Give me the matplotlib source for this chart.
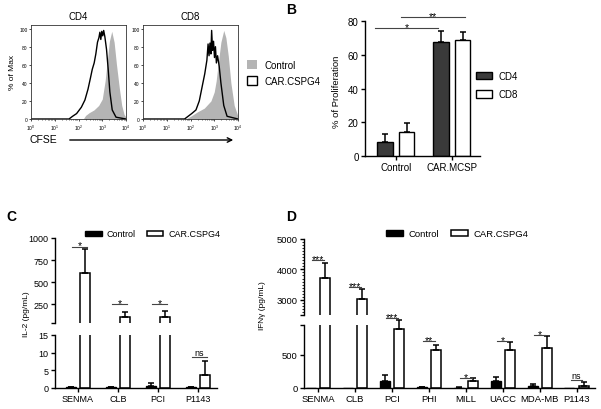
import numpy as np
import matplotlib
matplotlib.use("Agg")
from matplotlib import pyplot as plt
from matplotlib.patches import Patch, FancyArrowPatch
from matplotlib.ticker import LogLocator, NullFormatter, MultipleLocator

plt.rcParams['font.family'] = ['Liberation Sans', 'DejaVu Sans']
plt.rcParams['axes.linewidth'] = 1.0

# ---- panel A: CFSE histograms (log10 CFSE, % of max)
cd4_ctrl_log = [2.2, 2.3, 2.45, 2.65, 2.85, 3.0, 3.12, 3.22, 3.3, 3.4, 3.5, 3.6, 3.72, 3.82, 3.92, 4.0]
cd4_ctrl_pct = [0, 4, 7, 10, 15, 22, 42, 66, 86, 97, 85, 60, 34, 15, 5, 2]
cd4_car_log = [0.0, 1.6, 1.75, 1.92, 2.12, 2.27, 2.4, 2.5, 2.58, 2.66, 2.73, 2.8, 2.86, 2.9, 2.94,
               2.98, 3.02, 3.06, 3.11, 3.18, 3.25, 3.32, 3.42, 3.58, 4.0]
cd4_car_pct = [0, 0, 3, 6, 13, 21, 33, 45, 55, 62, 72, 85, 90, 96, 88, 97, 92, 98, 91, 77, 55, 30, 10, 2, 0]
cd8_ctrl_log = [1.8, 2.0, 2.3, 2.58, 2.86, 3.0, 3.08, 3.16, 3.28, 3.4, 3.49, 3.59, 3.7, 3.84, 4.0]
cd8_ctrl_pct = [0, 3, 8, 12, 20, 30, 42, 60, 85, 98, 90, 70, 40, 15, 3]
cd8_car_log = [0.0, 1.75, 1.9, 2.05, 2.23, 2.37, 2.5, 2.6, 2.69, 2.74, 2.78, 2.82, 2.86, 2.89,
               2.93, 2.97, 3.01, 3.05, 3.09, 3.14, 3.21, 3.28, 3.4, 3.54, 4.0]
cd8_car_pct = [0, 0, 3, 6, 10, 20, 37, 50, 65, 83, 70, 84, 72, 98, 76, 86, 68, 80, 62, 70, 58, 40, 15, 3, 0]

# ---- panel B: proliferation
prolif_groups = ['Control', 'CAR.MCSP']
cd4_prolif = [8.5, 67.4]
cd4_prolif_err = [4.3, 6.9]
cd8_prolif = [14.0, 68.9]
cd8_prolif_err = [5.4, 4.8]

# ---- panel C: IL-2
il2_lines = ['SENMA', 'CLB', 'PCI', 'P1143']
il2_ctrl = [0.3, 0.3, 0.5, 0.2]
il2_ctrl_err = [0.1, 0.1, 1.0, 0.1]
il2_car = [600, 105, 105, 3.7]
il2_car_err = [270, 55, 65, 4.0]
il2_sig = ['*', '*', '*', 'ns']
il2_sig_y = [900, 250, 250, 8.8]

# ---- panel D: IFN-gamma
ifn_lines = ['SENMA', 'CLB', 'PCI', 'PHI', 'MILL', 'UACC', 'MDA-MB', 'P1143']
ifn_ctrl = [0, 0, 105, 10, 5, 110, 30, 0]
ifn_ctrl_err = [0, 0, 90, 5, 3, 55, 30, 0]
ifn_car = [3730, 3020, 890, 575, 105, 573, 603, 35]
ifn_car_err = [490, 330, 140, 75, 45, 120, 180, 50]
ifn_sig = ['***', '***', '***', '**', '*', '*', '*', 'ns']
ifn_sig_y = [4300, 3420, 1056, 709, 151, 709, 800, 120]

W, H = 601, 410
fig = plt.figure(figsize=(W / 100, H / 100), dpi=100)


def box(x0, y0, x1, y1):
    return [x0 / W, 1 - y1 / H, (x1 - x0) / W, (y1 - y0) / H]


def fx(x):
    return x / W


def fy(y):
    return 1 - y / H


def hist_panel(rect, title, c_log, c_pct, k_log, k_pct):
    ax = fig.add_axes(box(*rect))
    ax.fill_between(10 ** np.array(c_log), c_pct, color='#b4b4b4', lw=0)
    ax.plot(10 ** np.array(k_log), k_pct, color='black', lw=1.0)
    ax.set_xscale('log')
    ax.set_xlim(1, 1e4)
    ax.set_ylim(0, 104)
    ax.set_yticks([0, 20, 40, 60, 80, 100])
    ax.xaxis.set_minor_locator(LogLocator(subs=range(2, 10)))
    ax.xaxis.set_minor_formatter(NullFormatter())
    ax.tick_params(labelsize=3.5, length=1.5, width=0.5, pad=1)
    ax.tick_params(which='minor', length=1, width=0.4)
    for s in ax.spines.values():
        s.set_linewidth(0.6)
        s.set_color('#333333')
    fig.text(fx((rect[0] + rect[2]) / 2), fy(17), title, ha='center', va='center', fontsize=7)
    return ax


hist_panel((31, 26, 126, 120), 'CD4', cd4_ctrl_log, cd4_ctrl_pct, cd4_car_log, cd4_car_pct)
hist_panel((143, 26, 238, 120), 'CD8', cd8_ctrl_log, cd8_ctrl_pct, cd8_car_log, cd8_car_pct)
fig.text(fx(12), fy(72), '% of Max', rotation=90, ha='center', va='center', fontsize=6)
fig.text(fx(30), fy(140), 'CFSE', ha='left', va='center', fontsize=7.5)
fig.add_artist(FancyArrowPatch((fx(67), fy(141)), (fx(236), fy(141)), transform=fig.transFigure,
                               arrowstyle='->', mutation_scale=8, lw=1.0, color='black'))
fig.legend(handles=[Patch(facecolor='#b4b4b4', edgecolor='none'),
                    Patch(facecolor='white', edgecolor='black', lw=1.0)],
           labels=['Control', 'CAR.CSPG4'], loc='center left', bbox_to_anchor=(fx(247), fy(74)),
           frameon=False, fontsize=7, handlelength=1.05, handleheight=1.05, handletextpad=0.7,
           labelspacing=0.6, borderpad=0, borderaxespad=0)


def style_ax(ax, fs=6.5):
    ax.spines['top'].set_visible(False)
    ax.spines['right'].set_visible(False)
    ax.tick_params(labelsize=fs, length=3, width=1, pad=1.5)


def err_up(ax, x, v, e):
    c = ax.errorbar(x, v, yerr=[[0], [e]], fmt='none', ecolor='black', elinewidth=1.1,
                    capsize=2.5, capthick=1.1)
    for a in c.get_children():
        a.set_clip_on(False)


def sig(ax, x0, x1, y, txt):
    ax.plot([x0, x1], [y, y], color='#444444', lw=0.8, clip_on=False)
    if txt == 'ns':
        fs, dy = 6.5, 1.5
    else:
        fs, dy = 7.5, -1.2
    ax.annotate(txt, ((x0 + x1) / 2, y), xytext=(0, dy), textcoords='offset points',
                ha='center', va='baseline', fontsize=fs, annotation_clip=False)


# ---- panel B
axB = fig.add_axes(box(365, 22, 480, 157))
xb = np.arange(len(prolif_groups))
offB, wB = 0.19, 0.28
axB.bar(xb - offB, cd4_prolif, wB, color='#3a3a3a', edgecolor='black', lw=1.0, label='CD4')
axB.bar(xb + offB, cd8_prolif, wB, color='white', edgecolor='black', lw=1.0, label='CD8')
for i in range(len(xb)):
    err_up(axB, xb[i] - offB, cd4_prolif[i], cd4_prolif_err[i])
    err_up(axB, xb[i] + offB, cd8_prolif[i], cd8_prolif_err[i])
axB.set_xlim(-0.55, 1.5)
axB.set_ylim(0, 80)
axB.set_yticks([0, 20, 40, 60, 80])
axB.set_xticks(xb)
axB.set_xticklabels(prolif_groups)
style_ax(axB, 7)
sig(axB, -0.375, 0.75, 75.9, '*')
sig(axB, 0.09, 1.23, 82.4, '**')
axB.legend(loc='center left', bbox_to_anchor=(fx(476), fy(86)), bbox_transform=fig.transFigure,
           frameon=False, fontsize=7, handlelength=1.65, handleheight=0.85, handletextpad=0.7,
           labelspacing=0.85, borderpad=0, borderaxespad=0)
fig.text(fx(337), fy(92), '% of Proliferation', rotation=90, ha='center', va='center', fontsize=6.8)


def broken_bars(ax_hi, ax_lo, lo_top, hi_bot, hi_top, cats, ctrl, ctrl_err, car, car_err,
                off, width, xlim, sigs, sig_y, sx0, sx1, fs):
    x = np.arange(len(cats))
    for ax, lo, hi in [(ax_hi, hi_bot, hi_top), (ax_lo, 0, lo_top)]:
        ax.bar(x - off, ctrl, width, color='black', edgecolor='black', lw=1.0, label='Control')
        ax.bar(x + off, car, width, color='white', edgecolor='black', lw=1.1, label='CAR.CSPG4')
        for i in range(len(x)):
            if lo <= ctrl[i] <= hi and ctrl_err[i] > 0:
                err_up(ax, x[i] - off, ctrl[i], ctrl_err[i])
            if lo <= car[i] <= hi and car_err[i] > 0:
                err_up(ax, x[i] + off, car[i], car_err[i])
        ax.set_xlim(*xlim)
        style_ax(ax, fs)
    ax_hi.set_ylim(hi_bot, hi_top)
    ax_lo.set_ylim(0, lo_top)
    ax_hi.spines['bottom'].set_visible(False)
    ax_hi.set_xticks([])
    ax_lo.set_xticks(x)
    ax_lo.set_xticklabels(cats)
    for i in range(len(x)):
        ax = ax_hi if sig_y[i] > hi_bot else ax_lo
        sig(ax, x[i] + sx0, x[i] + sx1, sig_y[i], sigs[i])
    ax_hi.legend(loc='center left', ncol=2, frameon=False, fontsize=fs,
                 handlelength=1.85, handleheight=0.55, handletextpad=0.55, columnspacing=1.2,
                 borderpad=0, borderaxespad=0, bbox_transform=fig.transFigure,
                 bbox_to_anchor=(0, 0))
    return ax_hi.get_legend()


# ---- panel C
axC1 = fig.add_axes(box(55, 239, 217, 324))
axC2 = fig.add_axes(box(55, 336, 217, 389))
lg = broken_bars(axC1, axC2, 15, 35, 1000, il2_lines, il2_ctrl, il2_ctrl_err, il2_car, il2_car_err,
                 0.175, 0.25, (-0.575, 3.475), il2_sig, il2_sig_y, -0.15, 0.22, 6.5)
lg.set_bbox_to_anchor((fx(85), fy(235)), transform=fig.transFigure)
axC1.set_yticks([35, 250, 500, 750, 1000])
axC1.set_yticklabels(['', '250', '500', '750', '1000'])
axC2.set_yticks([0, 5, 10, 15])
fig.text(fx(26), fy(314), 'IL-2 (pg/mL)', rotation=90, ha='center', va='center', fontsize=6)

# ---- panel D
axD1 = fig.add_axes(box(304, 240, 595, 316))
axD2 = fig.add_axes(box(304, 326, 595, 389))
lg = broken_bars(axD1, axD2, 950, 2500, 5000, ifn_lines, ifn_ctrl, ifn_ctrl_err, ifn_car, ifn_car_err,
                 0.2, 0.27, (-0.38, 7.49), ifn_sig, ifn_sig_y, -0.17, 0.15, 6.8)
lg.set_bbox_to_anchor((fx(386), fy(235)), transform=fig.transFigure)
axD1.set_yticks([2500, 3000, 4000, 5000])
axD1.set_yticklabels(['', '3000', '4000', '5000'])
axD1.yaxis.set_minor_locator(MultipleLocator(100))
axD1.tick_params(which='minor', length=1.2, width=0.6)
axD2.set_yticks([0, 500, 950])
axD2.set_yticklabels(['0', '500', ''])
fig.text(fx(263), fy(306), 'IFNγ (pg/mL)', rotation=90, ha='center', va='center', fontsize=6)

# panel letters
for lab, x, y in [('B', 291, 10), ('C', 11, 217), ('D', 291, 217)]:
    fig.text(fx(x), fy(y), lab, ha='center', va='center', fontsize=10, fontweight='bold')

fig.savefig('out.png', dpi=100)
